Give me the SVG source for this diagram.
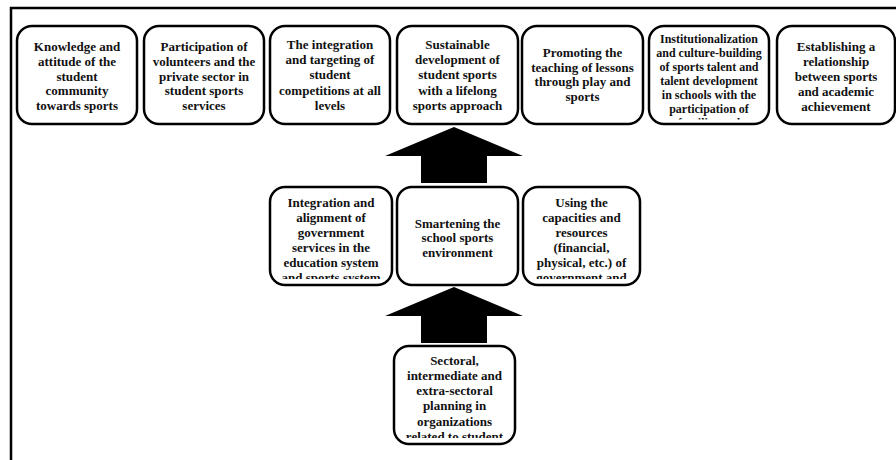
<svg xmlns="http://www.w3.org/2000/svg" width="896" height="460" viewBox="0 0 896 460">
<style>
.frame{fill:none;stroke:#000;stroke-width:2.5}
.box{fill:#fff;stroke:#000;stroke-width:2.5}
.t{font-family:"Liberation Serif","Times New Roman",serif;font-weight:bold;font-size:13px;fill:#111;text-anchor:middle}
.s{font-size:12px}
.arrow{fill:#000;stroke:none}
</style>
<defs>
<clipPath id="c6" clipPathUnits="userSpaceOnUse"><rect x="649" y="26" width="120" height="93.5"/></clipPath>
<clipPath id="cL" clipPathUnits="userSpaceOnUse"><rect x="270" y="187" width="122" height="92"/></clipPath>
<clipPath id="cR" clipPathUnits="userSpaceOnUse"><rect x="523" y="187" width="117" height="92"/></clipPath>
<clipPath id="cB" clipPathUnits="userSpaceOnUse"><rect x="394" y="346" width="121" height="92"/></clipPath>
</defs>
<rect x="0" y="0" width="896" height="460" fill="#fff"/>
<rect class="frame" x="11" y="8" width="900" height="470"/>

<g id="connectors">
<polygon class="arrow" points="454,127 523,156 487,156 487,183 421,183 421,156 385,156"/>
<polygon class="arrow" points="454,287 523,316 487,316 487,343 421,343 421,316 385,316"/>
</g>

<g id="n1">
<rect class="box" x="17" y="26" width="120" height="98" rx="15"/>
<text class="t" x="77" y="51">Knowledge and<tspan x="77" dy="14.8">attitude of the</tspan><tspan x="77" dy="14.8">student</tspan><tspan x="77" dy="14.8">community</tspan><tspan x="77" dy="14.8">towards sports</tspan></text>
</g>
<g id="n2">
<rect class="box" x="144" y="26" width="120" height="98" rx="15"/>
<text class="t" x="204" y="51">Participation of<tspan x="204" dy="14.8">volunteers and the</tspan><tspan x="204" dy="14.8">private sector in</tspan><tspan x="204" dy="14.8">student sports</tspan><tspan x="204" dy="14.8">services</tspan></text>
</g>
<g id="n3">
<rect class="box" x="270" y="26" width="120" height="98" rx="15"/>
<text class="t" x="330" y="49">The integration<tspan x="330" dy="15.2">and targeting of</tspan><tspan x="330" dy="15.2">student</tspan><tspan x="330" dy="15.2">competitions at all</tspan><tspan x="330" dy="15.2">levels</tspan></text>
</g>
<g id="n4">
<rect class="box" x="397" y="26" width="121" height="98" rx="15"/>
<text class="t" x="457.5" y="49">Sustainable<tspan x="457.5" dy="15.2">development of</tspan><tspan x="457.5" dy="15.2">student sports</tspan><tspan x="457.5" dy="15.2">with a lifelong</tspan><tspan x="457.5" dy="15.2">sports approach</tspan></text>
</g>
<g id="n5">
<rect class="box" x="522" y="26" width="121" height="98" rx="15"/>
<text class="t" x="582.5" y="56.7">Promoting the<tspan x="582.5" dy="14.8">teaching of lessons</tspan><tspan x="582.5" dy="14.8">through play and</tspan><tspan x="582.5" dy="14.8">sports</tspan></text>
</g>
<g id="n6">
<rect class="box" x="649" y="26" width="120" height="98" rx="15"/>
<text class="t s" x="709" y="43.3" clip-path="url(#c6)">Institutionalization<tspan x="709" dy="14">and culture-building</tspan><tspan x="709" dy="14">of sports talent and</tspan><tspan x="709" dy="14">talent development</tspan><tspan x="709" dy="14">in schools with the</tspan><tspan x="709" dy="14">participation of</tspan><tspan x="709" dy="14">families and</tspan></text>
</g>
<g id="n7">
<rect class="box" x="777" y="26" width="118" height="98" rx="15"/>
<text class="t" x="836" y="50.5">Establishing a<tspan x="836" dy="15.2">relationship</tspan><tspan x="836" dy="15.2">between sports</tspan><tspan x="836" dy="15.2">and academic</tspan><tspan x="836" dy="15.2">achievement</tspan></text>
</g>

<g id="n8">
<rect class="box" x="270" y="187" width="122" height="98" rx="15"/>
<text class="t" x="331" y="206.5" clip-path="url(#cL)">Integration and<tspan x="331" dy="15.1">alignment of</tspan><tspan x="331" dy="15.1">government</tspan><tspan x="331" dy="15.1">services in the</tspan><tspan x="331" dy="15.1">education system</tspan><tspan x="331" dy="15.1">and sports system</tspan></text>
</g>
<g id="n9">
<rect class="box" x="397" y="187" width="121" height="98" rx="15"/>
<text class="t" x="457.5" y="227.5">Smartening the<tspan x="457.5" dy="14.6">school sports</tspan><tspan x="457.5" dy="14.6">environment</tspan></text>
</g>
<g id="n10">
<rect class="box" x="523" y="187" width="117" height="98" rx="15"/>
<text class="t" x="581.5" y="206.5" clip-path="url(#cR)">Using the<tspan x="581.5" dy="15.1">capacities and</tspan><tspan x="581.5" dy="15.1">resources</tspan><tspan x="581.5" dy="15.1">(financial,</tspan><tspan x="581.5" dy="15.1">physical, etc.) of</tspan><tspan x="581.5" dy="15.1">government and</tspan></text>
</g>
<g id="n11">
<rect class="box" x="394" y="346" width="121" height="98" rx="15"/>
<text class="t" x="454.5" y="364.5" clip-path="url(#cB)">Sectoral,<tspan x="454.5" dy="15.3">intermediate and</tspan><tspan x="454.5" dy="15.3">extra-sectoral</tspan><tspan x="454.5" dy="15.3">planning in</tspan><tspan x="454.5" dy="15.3">organizations</tspan><tspan x="454.5" dy="15.3">related to student</tspan></text>
</g>
</svg>
